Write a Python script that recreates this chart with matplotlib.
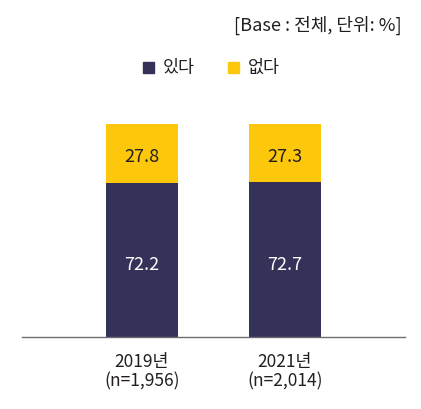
import matplotlib
matplotlib.use("Agg")
import matplotlib.pyplot as plt
from matplotlib.patches import Rectangle

plt.rcParams["font.family"] = ["Noto Sans CJK KR", "DejaVu Sans"]

# data
years = ["2019년", "2021년"]
counts = ["(n=1,956)", "(n=2,014)"]
yes_vals = [72.2, 72.7]
no_vals = [27.8, 27.3]
series_names = ["있다", "없다"]

NAVY = "#35325a"
YELLOW = "#fdc70c"
TEXT = "#231f20"

fig = plt.figure(figsize=(4.21, 4.10), dpi=100)
W, H = 421, 410
ax = fig.add_axes([22 / W, 72 / H, 383 / W, (338 - 125) / H])

x = [0, 1]
width = 0.503
ax.bar(x, yes_vals, width=width, color=NAVY)
ax.bar(x, no_vals, width=width, bottom=yes_vals, color=YELLOW)

for xi, yv, nv in zip(x, yes_vals, no_vals):
    ax.annotate(f"{yv:.1f}", (xi, yv / 2), xytext=(0, -3),
                textcoords="offset points", ha="center", va="center",
                color="white", fontsize=13)
    ax.annotate(f"{nv:.1f}", (xi, yv + nv / 2), xytext=(0, -2),
                textcoords="offset points", ha="center", va="center",
                color=TEXT, fontsize=13)

ax.set_xlim(-0.839, 1.839)
ax.set_ylim(0, 100)
for s in ["top", "right", "left"]:
    ax.spines[s].set_visible(False)
ax.spines["bottom"].set_color("#6d6e71")
ax.spines["bottom"].set_linewidth(1.0)
ax.set_yticks([])
ax.set_xticks(x)
ax.set_xticklabels([f"{y}\n{c}" for y, c in zip(years, counts)],
                   fontsize=12.5, color=TEXT, linespacing=1.15)
ax.tick_params(axis="x", length=0, pad=10.5)

# unit note
fig.text(402 / W, 1 - 25 / H, "[Base : 전체, 단위: %]", ha="right",
         va="center", fontsize=13, color=TEXT)

# legend
for sx, tx, col, name in [(143, 163, NAVY, series_names[0]),
                          (228, 248, YELLOW, series_names[1])]:
    fig.patches.append(Rectangle((sx / W, 1 - 74 / H), 11 / W, 11 / H,
                                 transform=fig.transFigure, color=col))
    fig.text(tx / W, 1 - 68 / H, name, ha="left", va="center",
             fontsize=12.5, color=TEXT)

fig.savefig("out.png", dpi=100)
